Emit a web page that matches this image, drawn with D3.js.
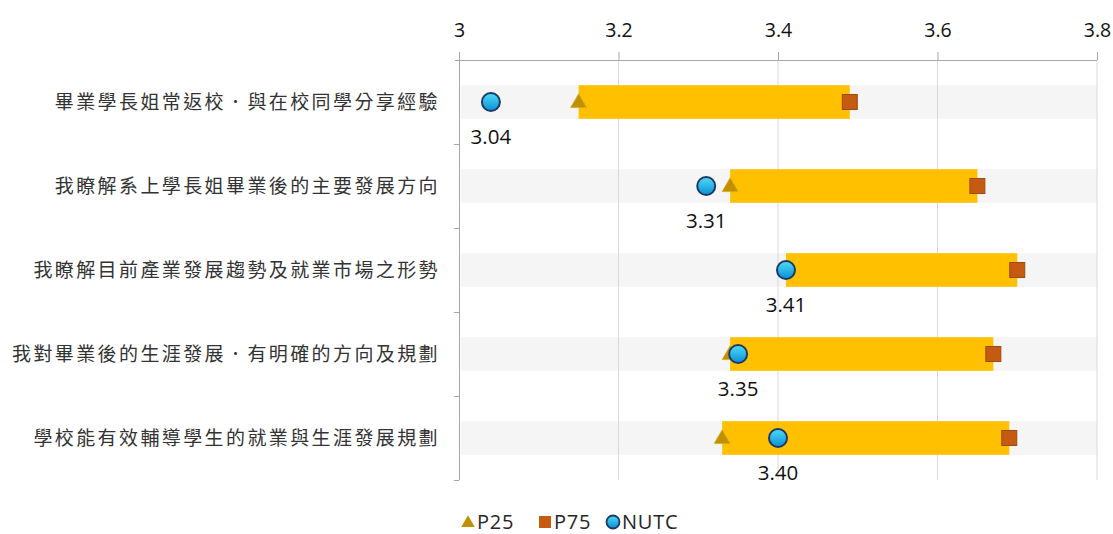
<!DOCTYPE html>
<html>
<head>
<meta charset="utf-8">
<script src="https://cdn.jsdelivr.net/npm/d3@7"></script>
<style>
  body { margin: 0; background: #fff; }
  text { font-family: "Open Sans", "Noto Sans CJK TC", sans-serif; }
  .cat { font-family: "Noto Sans CJK TC", sans-serif; }
</style>
</head>
<body>
<div id="chart"></div>
<script>
const categories = [
  "畢業學長姐常返校．與在校同學分享經驗",
  "我瞭解系上學長姐畢業後的主要發展方向",
  "我瞭解目前產業發展趨勢及就業市場之形勢",
  "我對畢業後的生涯發展．有明確的方向及規劃",
  "學校能有效輔導學生的就業與生涯發展規劃"
];
const p25 = [3.15, 3.34, 3.41, 3.34, 3.33];
const p75 = [3.49, 3.65, 3.70, 3.67, 3.69];
const nutc = [3.04, 3.31, 3.41, 3.35, 3.40];
const xTicks = [3, 3.2, 3.4, 3.6, 3.8];
const legendItems = ["P25", "P75", "NUTC"];

const rows = categories.map((c, i) => ({ cat: c, p25: p25[i], p75: p75[i], nutc: nutc[i] }));

const W = 1113, H = 534;
const svg = d3.select("#chart").append("svg")
  .attr("width", W).attr("height", H);

const defs = svg.append("defs");
const grad = defs.append("linearGradient").attr("id", "ballGrad")
  .attr("x1", 0).attr("y1", 0).attr("x2", 0).attr("y2", 1);
grad.append("stop").attr("offset", "0%").attr("stop-color", "#4fdcf8");
grad.append("stop").attr("offset", "100%").attr("stop-color", "#0a8fd4");

const x = d3.scaleLinear().domain([3, 3.8]).range([459, 1097]);
const y = d3.scaleBand().domain(categories).range([60, 480]).padding(0);
const barH = y.bandwidth() * 0.4;
const yc = c => y(c) + y.bandwidth() / 2;

// light grey row bands
svg.append("g").selectAll("rect").data(rows).join("rect")
  .attr("x", x(3) + 2)
  .attr("y", d => yc(d.cat) - barH / 2)
  .attr("width", x(3.8) - x(3) - 2)
  .attr("height", barH)
  .attr("fill", "#f5f5f5");

// vertical gridlines
svg.append("g").selectAll("line").data(xTicks.slice(1)).join("line")
  .attr("x1", d => x(d)).attr("x2", d => x(d))
  .attr("y1", 60).attr("y2", 480)
  .attr("stroke", "#d9d9d9").attr("stroke-width", 1);

// top axis
const xAxis = svg.append("g")
  .attr("transform", "translate(0,60)")
  .call(d3.axisTop(x).tickValues(xTicks).tickFormat(d3.format("")).tickSize(8).tickSizeOuter(0));
xAxis.select(".domain").attr("stroke", "#a6a6a6").attr("d", `M${x(3) - 4},0.5H${x(3.8)}`);
xAxis.selectAll(".tick line").attr("stroke", "#a6a6a6");
xAxis.selectAll(".tick text")
  .attr("y", -23)
  .attr("font-size", 19.5)
  .attr("fill", "#111")
  .attr("font-family", "'Open Sans', sans-serif");

// left axis line with ticks at category boundaries
const yAxis = svg.append("g");
yAxis.append("line")
  .attr("x1", x(3) + 0.5).attr("x2", x(3) + 0.5)
  .attr("y1", 60).attr("y2", 480)
  .attr("stroke", "#a6a6a6");
yAxis.selectAll("line.tk").data(categories).join("line")
  .attr("class", "tk")
  .attr("x1", x(3) - 5).attr("x2", x(3))
  .attr("y1", d => y(d) + y.bandwidth() + 0.5)
  .attr("y2", d => y(d) + y.bandwidth() + 0.5)
  .attr("stroke", "#a6a6a6");

// category labels
svg.append("g").selectAll("text").data(rows).join("text")
  .attr("class", "cat")
  .attr("x", 440)
  .attr("y", d => yc(d.cat))
  .attr("dy", "0.36em")
  .attr("text-anchor", "end")
  .attr("font-size", 19)
  .attr("letter-spacing", 2.4)
  .attr("fill", "#333")
  .text(d => d.cat);

// P25-P75 bars
svg.append("g").selectAll("rect").data(rows).join("rect")
  .attr("x", d => x(d.p25))
  .attr("y", d => yc(d.cat) - barH / 2)
  .attr("width", d => x(d.p75) - x(d.p25))
  .attr("height", barH)
  .attr("fill", "#ffc000");

// P75 squares
svg.append("g").selectAll("rect").data(rows).join("rect")
  .attr("x", d => x(d.p75) - 7.5)
  .attr("y", d => yc(d.cat) - 7.5)
  .attr("width", 15).attr("height", 15)
  .attr("fill", "#c55a11")
  .attr("stroke", "#9c4a10").attr("stroke-width", 1);

// P25 triangles
const tri = d3.symbol().type(d3.symbolTriangle).size(110);
svg.append("g").selectAll("path").data(rows).join("path")
  .attr("d", tri)
  .attr("transform", d => `translate(${x(d.p25)},${yc(d.cat) + 1})`)
  .attr("fill", "#bf9000")
  .attr("stroke", "#d9ab1a").attr("stroke-width", 0.8);

// NUTC circles
svg.append("g").selectAll("circle").data(rows).join("circle")
  .attr("cx", d => x(d.nutc))
  .attr("cy", d => yc(d.cat))
  .attr("r", 9)
  .attr("fill", "url(#ballGrad)")
  .attr("stroke", "#1f3864").attr("stroke-width", 2);

// NUTC value labels
svg.append("g").selectAll("text").data(rows).join("text")
  .attr("x", d => x(d.nutc))
  .attr("y", d => yc(d.cat) + 42)
  .attr("text-anchor", "middle")
  .attr("font-size", 20.5)
  .attr("fill", "#111")
  .text(d => d3.format(".2f")(d.nutc));

// legend
const legend = svg.append("g").attr("transform", "translate(0,522)");
const legX = [468, 545, 613];
legend.append("path")
  .attr("d", d3.symbol().type(d3.symbolTriangle).size(80))
  .attr("transform", `translate(${legX[0]},1)`)
  .attr("fill", "#bf9000");
legend.append("rect")
  .attr("x", legX[1] - 6).attr("y", -6).attr("width", 12).attr("height", 12)
  .attr("fill", "#c55a11");
legend.append("circle")
  .attr("cx", legX[2]).attr("cy", 0).attr("r", 6.5)
  .attr("fill", "url(#ballGrad)")
  .attr("stroke", "#1f3864").attr("stroke-width", 1.8);
legend.selectAll("text").data(legendItems).join("text")
  .attr("x", (d, i) => legX[i] + 9)
  .attr("y", 0)
  .attr("dy", "0.36em")
  .attr("font-size", 20)
  .attr("letter-spacing", 0.8)
  .attr("fill", "#262626")
  .text(d => d);
</script>
</body>
</html>
